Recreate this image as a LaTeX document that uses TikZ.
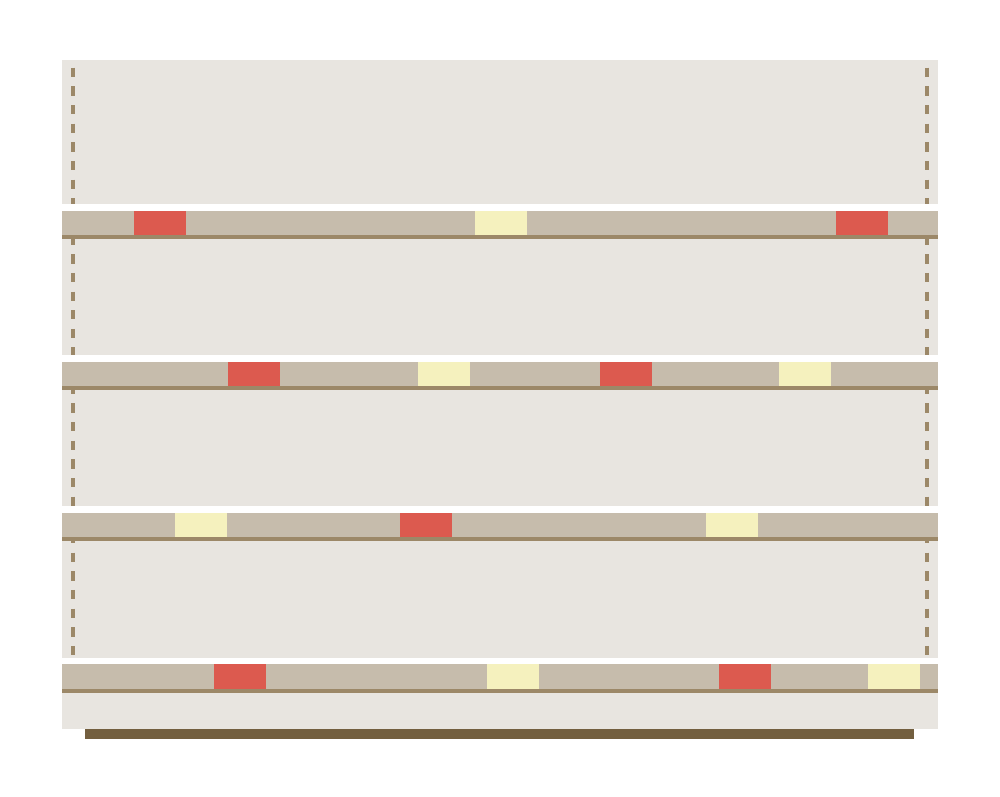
\documentclass[tikz,border=0pt]{standalone}
\definecolor{panelgrey}{HTML}{E8E5E0}
\definecolor{shelftan}{HTML}{C6BCAC}
\definecolor{lipbrown}{HTML}{9C8868}
\definecolor{basebrown}{HTML}{735F3F}
\definecolor{boxred}{HTML}{DC5A4F}
\definecolor{boxyellow}{HTML}{F5F1BE}
\begin{document}
\begin{tikzpicture}[x=1pt,y=-1pt]
\tikzstyle{panel}=[fill=panelgrey]
\tikzstyle{shelf}=[fill=shelftan]
\tikzstyle{lip}=[fill=lipbrown]
\tikzstyle{gap}=[fill=white]
\tikzstyle{rail}=[draw=lipbrown, line width=3.5pt, dash pattern=on 9.3pt off 9.35pt]
\useasboundingbox (0,0) rectangle (1000,796);

% back panel and base
\fill [panel] (62,60) rectangle (938,729);
\fill [basebrown] (85,729) rectangle (914,739);

% side rails
\draw [rail] (73,67.7) -- (73,656);
\draw [rail] (927,67.7) -- (927,656);

% shelves
\foreach \k in {0,...,3} {
  \fill [gap] (62,{204+151.2*\k}) rectangle (938,{210.7+151.2*\k});
  \fill [shelf] (62,{210.7+151.2*\k}) rectangle (938,{235+151.2*\k});
  \fill [lip] (62,{235+151.2*\k}) rectangle (938,{239+151.2*\k});
}

% boxes
\foreach \x/\k/\c in {134/0/boxred, 475/0/boxyellow, 836/0/boxred,
  228/1/boxred, 418/1/boxyellow, 600/1/boxred, 779/1/boxyellow,
  175/2/boxyellow, 400/2/boxred, 706/2/boxyellow,
  214/3/boxred, 487/3/boxyellow, 719/3/boxred, 868/3/boxyellow}
  \fill [\c] (\x,{210.7+151.2*\k}) rectangle ++(52,24.3);
\end{tikzpicture}
\end{document}
